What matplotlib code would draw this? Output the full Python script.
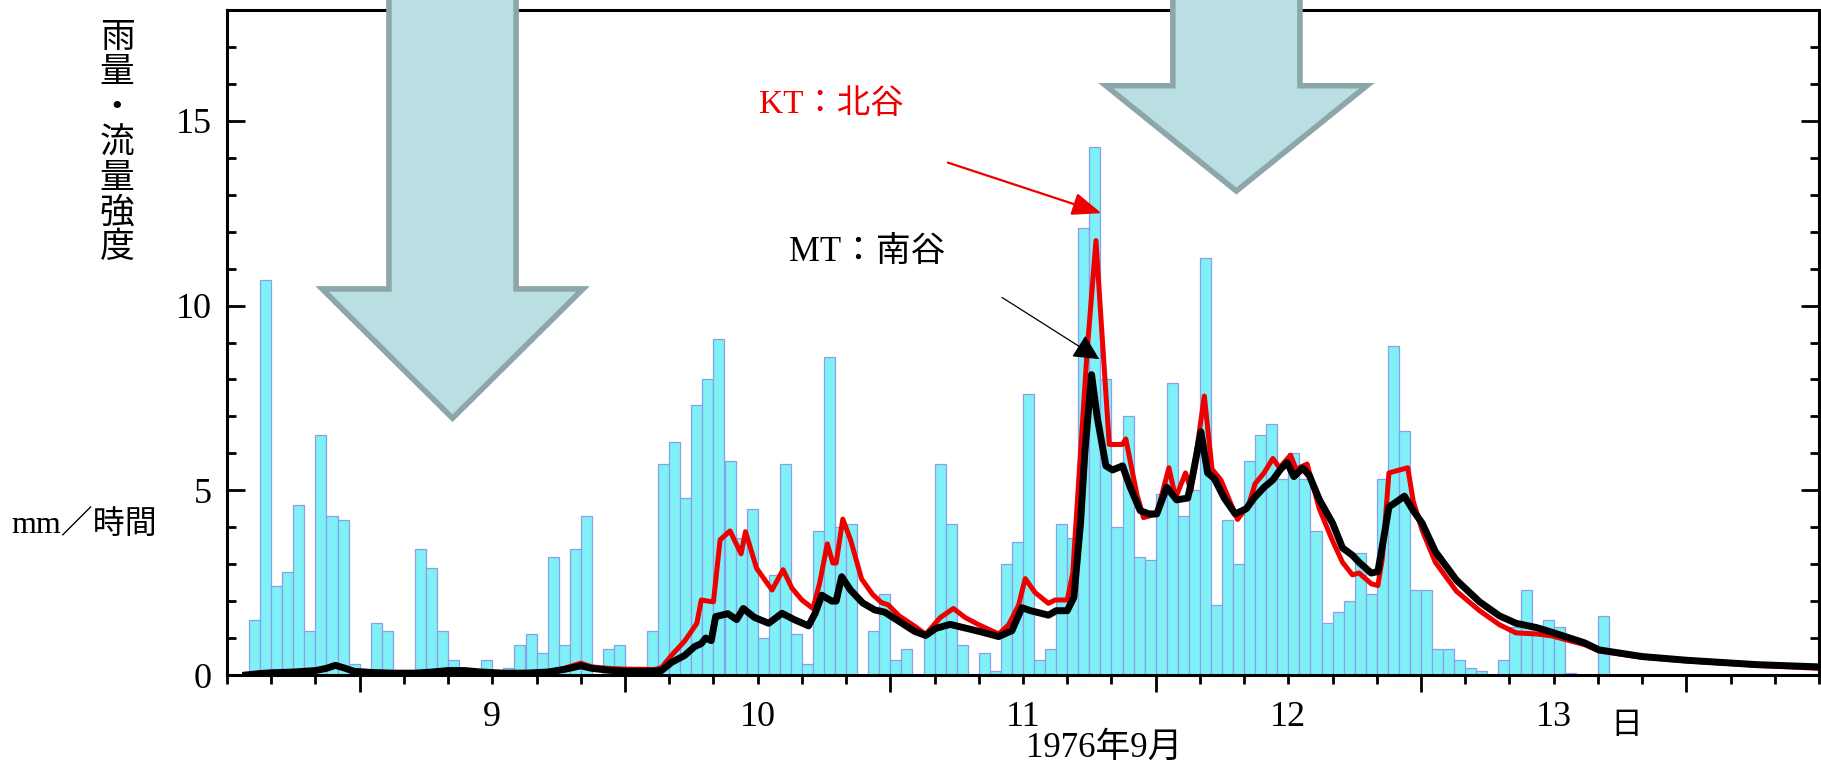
import matplotlib
matplotlib.use("Agg")
import matplotlib.pyplot as plt
from matplotlib.ticker import MultipleLocator, FuncFormatter, NullFormatter
from matplotlib.patches import Polygon

plt.rcParams['font.family'] = ['Liberation Serif', 'Noto Sans CJK JP']
CJK = ['Noto Sans CJK JP', 'DejaVu Sans']
SERIF_CJK = ['Liberation Serif', 'Noto Sans CJK JP']

# Time axis: hours counted from 1976-09-09 00:00
RAIN_START_HOUR = -10          # first bar: 8th, 14:00
rain_8th = [1.5, 10.7, 2.4, 2.8, 4.6, 1.2, 6.5, 4.3, 4.2, 0.3]
rain_9th = [0, 1.4, 1.2, 0, 0, 3.4, 2.9, 1.2, 0.4, 0, 0, 0.4,
            0, 0.2, 0.8, 1.1, 0.6, 3.2, 0.8, 3.4, 4.3, 0, 0.7, 0.8]
rain_10th = [0, 0, 1.2, 5.7, 6.3, 4.8, 7.3, 8.0, 9.1, 5.8, 3.7, 4.5,
             1.0, 2.7, 5.7, 1.1, 0.3, 3.9, 8.6, 4.0, 4.1, 0, 1.2, 2.2]
rain_11th = [0.4, 0.7, 0, 1.2, 5.7, 4.1, 0.8, 0, 0.6, 0.1, 3.0, 3.6,
             7.6, 0.4, 0.7, 4.1, 3.7, 12.1, 14.3, 8.0, 4.0, 7.0, 3.2, 3.1]
rain_12th = [4.9, 7.9, 4.3, 5.0, 11.3, 1.9, 4.2, 3.0, 5.8, 6.5, 6.8, 5.3,
             6.0, 5.3, 3.9, 1.4, 1.7, 2.0, 3.3, 2.2, 5.3, 8.9, 6.6, 2.3]
rain_13th = [2.3, 0.7, 0.7, 0.4, 0.2, 0.1, 0, 0.4, 1.3, 2.3, 1.3, 1.5,
             1.3, 0.05, 0, 0, 1.6]

# Discharge intensity (mm/h), south valley MT
mt_hours = [-10.3, -9, -8, -6, -4, -3, -2.2, -1.5, -0.5, 1, 3, 5, 6.5, 8, 9.5,
            11, 13, 15, 17, 18.5, 20, 21, 22.5, 24, 26.5, 27.3, 28.2, 29.4,
            30.3, 30.9, 31.3, 31.8, 32.2, 33.3, 34.1, 34.7, 35.7, 37.0, 38.2,
            39.3, 40.6, 41.2, 41.8, 42.7, 43.1, 43.6, 44.4, 45.5, 46.6, 47.5,
            48.8, 50.2, 51.2, 52.1, 53.4, 54.8, 56.3, 57.8, 59.0, 59.9, 60.7,
            62.3, 63.0, 64.0, 64.6, 65.2, 65.6, 66.2, 66.7, 67.5, 68.1, 69.0,
            69.7, 70.6, 71.4, 72.1, 73.0, 73.9, 74.9, 75.3, 76.1, 76.7, 77.3,
            78.2, 79.2, 80.2, 80.9, 81.8, 82.6, 83.3, 83.9, 84.5, 85.3, 85.9,
            86.8, 88.0, 88.9, 89.8, 90.4, 91.5, 92.1, 92.5, 93.1, 93.6, 94.5,
            95.3, 96.1, 97.3, 99.2, 101.3, 103.1, 104.6, 106.5, 107.8, 110.8,
            112.1, 116, 120, 126.4, 132]
mt_flow = [0.0, 0.04, 0.06, 0.08, 0.12, 0.18, 0.26, 0.2, 0.1, 0.07, 0.05, 0.05,
           0.08, 0.12, 0.12, 0.08, 0.05, 0.05, 0.08, 0.15, 0.25, 0.18, 0.13,
           0.1, 0.1, 0.12, 0.34, 0.53, 0.77, 0.85, 1.0, 0.93, 1.58, 1.66, 1.5,
           1.8, 1.56, 1.4, 1.67, 1.5, 1.33, 1.67, 2.16, 2.0, 2.0, 2.66, 2.3,
           1.95, 1.76, 1.7, 1.45, 1.18, 1.07, 1.26, 1.37, 1.27, 1.16, 1.04,
           1.2, 1.82, 1.74, 1.62, 1.74, 1.74, 2.1, 4.1, 6.05, 8.13, 7.0, 5.66,
           5.55, 5.66, 5.08, 4.45, 4.36, 4.36, 5.08, 4.74, 4.79, 5.32, 6.58,
           5.47, 5.32, 4.79, 4.36, 4.5, 4.79, 5.08, 5.28, 5.57, 5.75, 5.37,
           5.6, 5.4, 4.75, 4.11, 3.44, 3.24, 3.05, 2.76, 2.8, 3.48, 4.55,
           4.65, 4.84, 4.45, 4.11, 3.34, 2.57, 1.98, 1.6, 1.4, 1.28, 1.16,
           0.87, 0.68, 0.5, 0.4, 0.28, 0.22]

# Discharge intensity (mm/h), north valley KT
kt_hours = [-10.3, -9, -8, -6, -4, -3, -2.2, -1.5, -0.5, 1, 3, 5, 6.5, 8, 9.5,
            11, 13, 15, 17, 18.5, 20, 21, 22.5, 24, 26.7, 27.3, 28.2, 29.4,
            30.5, 30.9, 31.5, 32.0, 32.6, 33.5, 34.5, 34.9, 35.9, 37.3, 38.3,
            39.1, 40.0, 41.0, 41.6, 42.3, 42.8, 43.1, 43.7, 44.4, 45.4, 46.4,
            47.2, 47.8, 48.8, 50.3, 51.2, 52.5, 53.7, 54.8, 56.0, 57.8, 58.7,
            59.6, 60.2, 61.1, 62.3, 62.9, 64.0, 64.5, 65.0, 65.8, 66.6, 67.0,
            67.8, 69.0, 69.3, 70.3, 70.9, 72.1, 73.2, 73.8, 74.7, 75.2, 76.4,
            77.1, 77.9, 79.4, 80.4, 81.0, 81.8, 82.6, 83.2, 84.2, 84.7, 85.7,
            86.8, 88.0, 88.9, 89.8, 90.4, 91.5, 92.1, 92.5, 93.1, 94.8, 95.3,
            96.1, 97.3, 99.2, 101.3, 103.1, 104.6, 106.5, 107.8, 110.8, 112.1,
            116, 120, 126.4, 132]
kt_flow = [0.0, 0.04, 0.06, 0.08, 0.12, 0.2, 0.28, 0.2, 0.1, 0.07, 0.05, 0.05,
           0.08, 0.12, 0.12, 0.08, 0.05, 0.05, 0.08, 0.18, 0.32, 0.22, 0.18,
           0.16, 0.15, 0.2, 0.53, 0.92, 1.4, 2.03, 2.0, 1.98, 3.66, 3.9, 3.28,
           3.88, 2.89, 2.3, 2.85, 2.35, 2.03, 1.8, 2.48, 3.55, 3.03, 3.03,
           4.22, 3.66, 2.6, 2.18, 1.96, 1.9, 1.6, 1.3, 1.1, 1.55, 1.8, 1.55,
           1.36, 1.11, 1.36, 1.89, 2.61, 2.23, 1.94, 2.03, 2.03, 2.76, 5.08,
           8.76, 11.76, 9.9, 6.24, 6.24, 6.39, 4.89, 4.26, 4.36, 5.61, 4.79,
           5.47, 4.99, 7.55, 5.57, 5.28, 4.21, 4.6, 5.18, 5.47, 5.86, 5.61,
           5.95, 5.57, 5.71, 4.5, 3.63, 3.05, 2.71, 2.76, 2.47, 2.42, 3.15,
           5.47, 5.61, 4.7, 3.92, 3.05, 2.27, 1.74, 1.36, 1.14, 1.11, 1.06,
           0.82, 0.65, 0.48, 0.38, 0.26, 0.18]

day_numbers = [9, 10, 11, 12, 13]
y_major_ticks = [0, 5, 10, 15]

W, H, DPI = 1821, 765, 100
fig = plt.figure(figsize=(W / DPI, H / DPI), dpi=DPI)
ax = fig.add_axes([227 / W, 1 - 675 / H, (1819 - 227) / W, (675 - 10) / H])

rain = rain_8th + rain_9th + rain_10th + rain_11th + rain_12th + rain_13th
rain_hours = [RAIN_START_HOUR + i for i in range(len(rain))]
ax.bar(rain_hours, rain, width=1.0, align='edge', color='#7FF1F6',
       edgecolor='#8A9FEA', linewidth=0.9, zorder=2)

ax.plot(kt_hours, kt_flow, color='#EE0000', lw=3.6, solid_joinstyle='round',
        zorder=3)
ax.plot(mt_hours, mt_flow, color='black', lw=5.0, solid_joinstyle='round',
        zorder=4)

ax.set_xlim(-12, 132)
ax.set_ylim(0, 18)

for s in ax.spines.values():
    s.set_linewidth(2.2)

ax.set_yticks(y_major_ticks)
ax.yaxis.set_minor_locator(MultipleLocator(1))
ax.tick_params(axis='y', which='both', direction='in', left=True, right=True,
               width=2.0, labelsize=26, pad=11)
ax.tick_params(axis='y', which='major', length=13)
ax.tick_params(axis='y', which='minor', length=6.5)

# midnight ticks are long; day numbers sit under the noon ticks
ax.set_xticks([0, 24, 48, 72, 96, 120])
ax.xaxis.set_major_formatter(NullFormatter())
ax.xaxis.set_minor_locator(MultipleLocator(4))
noon_labels = {12 + 24 * i: str(d) for i, d in enumerate(day_numbers)}
ax.xaxis.set_minor_formatter(
    FuncFormatter(lambda v, p: noon_labels.get(int(round(v)), '')))
ax.tick_params(axis='x', which='both', direction='out', top=False,
               width=2.0, labelsize=26)
ax.tick_params(axis='x', which='major', length=12.5)
ax.tick_params(axis='x', which='minor', length=6.5, pad=12)

# broad downward arrows marking the two rain phases
def big_arrow(xc, half_shaft, half_head, y_base, y_tip, y_top=19.5):
    pts = [(xc - half_shaft, y_top), (xc - half_shaft, y_base),
           (xc - half_head, y_base), (xc, y_tip), (xc + half_head, y_base),
           (xc + half_shaft, y_base), (xc + half_shaft, y_top)]
    ax.add_patch(Polygon(pts, closed=True, facecolor='#BADFE3',
                         edgecolor='#8CA6A9', linewidth=4.0, clip_on=False,
                         zorder=6, joinstyle='miter'))

big_arrow(8.4, 5.75, 11.8, 10.45, 6.95)
big_arrow(79.3, 5.75, 11.8, 15.95, 13.1)

# series labels with pointer arrows
ax.text(42.7, 15.45, 'KT：北谷', color='#EE0000', fontsize=24,
        family=SERIF_CJK, ha='center', va='center', zorder=7)
ax.annotate('', xy=(67.1, 12.5), xytext=(53.2, 13.87),
            arrowprops=dict(arrowstyle='-|>,head_length=0.9,head_width=0.35',
                            color='#EE0000', lw=1.6, mutation_scale=20,
                            shrinkA=0, shrinkB=0), zorder=7)
ax.text(45.9, 11.45, 'MT：南谷', color='black', fontsize=25,
        family=SERIF_CJK, ha='center', va='center', zorder=7)
ax.annotate('', xy=(66.9, 8.55), xytext=(58.1, 10.22),
            arrowprops=dict(arrowstyle='-|>,head_length=0.8,head_width=0.4',
                            color='black', lw=0.9, mutation_scale=20,
                            shrinkA=0, shrinkB=0), zorder=7)

# axis titles
fig.text(117 / W, 1 - 143 / H, '\n'.join('雨量・流量強度'), family=CJK,
         fontsize=25, ha='center', va='center', linespacing=1.0)
fig.text(11 / W, 1 - 525 / H, 'mm／時間', family=SERIF_CJK, fontsize=23,
         ha='left', va='center')
fig.text(1104 / W, 1 - 748 / H, '1976年9月', family=SERIF_CJK, fontsize=25,
         ha='center', va='center')
fig.text(1626 / W, 1 - 725 / H, '日', family=CJK, fontsize=23,
         ha='center', va='center')

fig.savefig('out.png', dpi=DPI, facecolor='white')
